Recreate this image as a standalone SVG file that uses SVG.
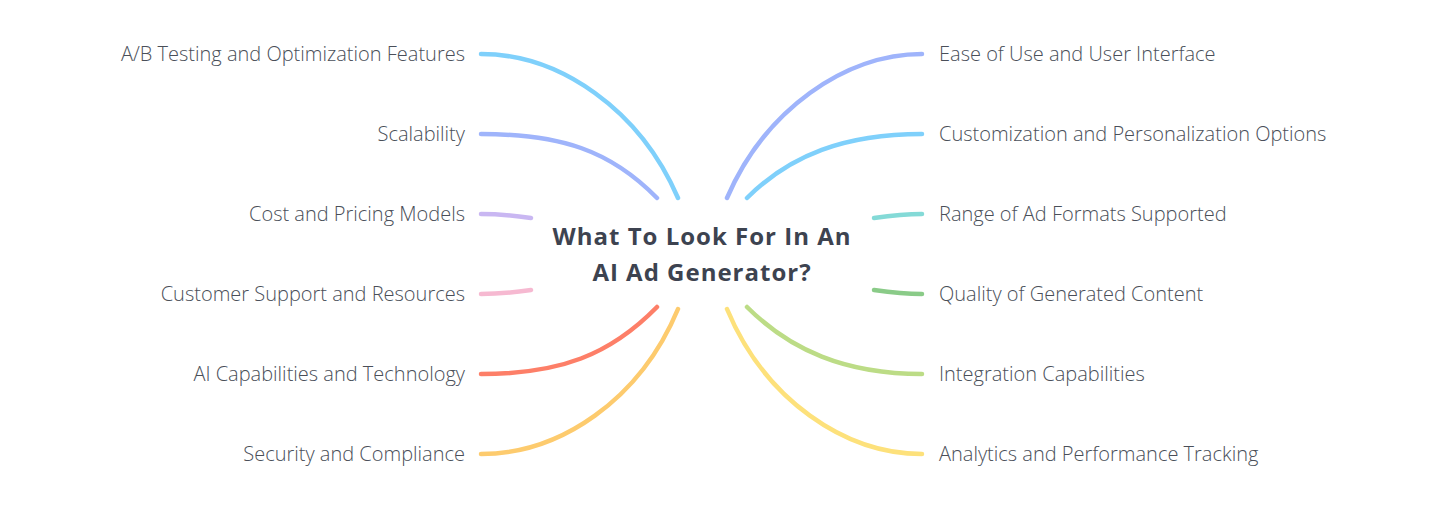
<svg xmlns="http://www.w3.org/2000/svg" width="1429" height="523" viewBox="0 0 1429 523">
<style>
.c{fill:none;stroke-width:4.5;stroke-linecap:round}
.l{font-family:"Open Sans","Liberation Sans",sans-serif;font-weight:300;font-size:20px;fill:#4a4f59}
.r{text-anchor:start}
.lt{text-anchor:end}
.t{font-family:"Open Sans","Liberation Sans",sans-serif;font-weight:700;font-size:24px;letter-spacing:1px;fill:#3d4350;text-anchor:middle}
</style>
<rect width="1429" height="523" fill="#fff"/>
<g id="connectors">
<path class="c" stroke="#7fd0fb" d="M678,198 C640,110 560,54 481,54"/>
<path class="c" stroke="#9fb4fb" d="M657,198 C610,150 560,134 481,134"/>
<path class="c" stroke="#c9b7f2" d="M531,218 C510,215 495,214 481,214"/>
<path class="c" stroke="#f6b9d1" d="M531,290 C510,293 495,294 481,294"/>
<path class="c" stroke="#fd7f68" d="M657,307 C610,355 560,374 481,374"/>
<path class="c" stroke="#fdcb6e" d="M678,309 C640,400 560,454 481,454"/>
<path class="c" stroke="#9fb4fb" d="M727,198 C765,110 845,54 922,54"/>
<path class="c" stroke="#7fd0fb" d="M747,198 C790,155 845,134 922,134"/>
<path class="c" stroke="#84dad7" d="M874,218 C895,215 910,214 922,214"/>
<path class="c" stroke="#8acb88" d="M874,290 C895,293 910,294 922,294"/>
<path class="c" stroke="#bcdc86" d="M747,307 C790,350 845,374 922,374"/>
<path class="c" stroke="#fde17b" d="M727,309 C765,400 845,454 922,454"/>
</g>
<g id="center"><text class="t" x="702" y="245">What To Look For In An</text><text class="t" x="702" y="281">AI Ad Generator?</text></g>
<g id="n-ab"><text class="l lt" x="465" y="61">A/B Testing and Optimization Features</text></g>
<g id="n-scal"><text class="l lt" x="465" y="141">Scalability</text></g>
<g id="n-cost"><text class="l lt" x="465" y="221">Cost and Pricing Models</text></g>
<g id="n-cust"><text class="l lt" x="465" y="301">Customer Support and Resources</text></g>
<g id="n-ai"><text class="l lt" x="465" y="381">AI Capabilities and Technology</text></g>
<g id="n-sec"><text class="l lt" x="465" y="461">Security and Compliance</text></g>
<g id="n-ease"><text class="l r" x="939" y="61">Ease of Use and User Interface</text></g>
<g id="n-custom"><text class="l r" x="939" y="141">Customization and Personalization Options</text></g>
<g id="n-range"><text class="l r" x="939" y="221">Range of Ad Formats Supported</text></g>
<g id="n-qual"><text class="l r" x="939" y="301">Quality of Generated Content</text></g>
<g id="n-integ"><text class="l r" x="939" y="381">Integration Capabilities</text></g>
<g id="n-anal"><text class="l r" x="939" y="461">Analytics and Performance Tracking</text></g>
</svg>
